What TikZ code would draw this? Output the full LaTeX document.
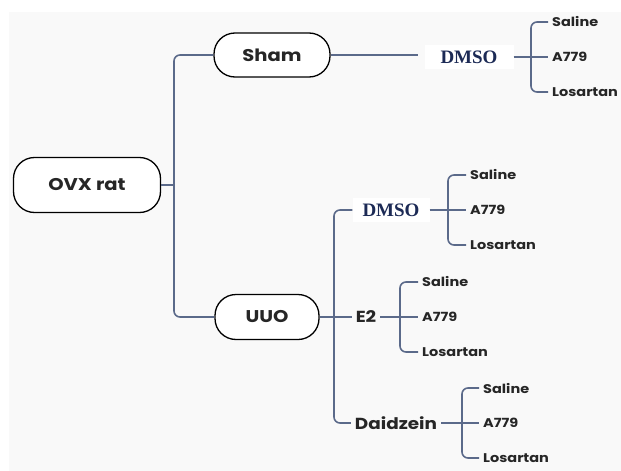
\documentclass[tikz,border=0pt]{standalone}
\usepackage{fontspec}
\setmainfont{Poppins}[FakeStretch=1.15]
\newfontfamily\dmsofont{Liberation Serif}
\definecolor{branch}{HTML}{5B6A8A}
\definecolor{ink}{HTML}{262626}
\definecolor{dmsoink}{HTML}{1C2A55}
\begin{document}
\begin{tikzpicture}[x=1pt,y=-1pt,
    grp/.style={draw=black,line width=1.3pt,fill=white,rounded corners=21pt,
      text=ink,font=\bfseries\fontsize{17}{17}\selectfont},
    dmso/.style={fill=white,inner xsep=10pt,inner ysep=6pt,text=dmsoink,
      font=\dmsofont\bfseries\fontsize{19}{19}\selectfont},
    drug/.style={text=ink,inner sep=4pt,font=\bfseries\fontsize{16}{16}\selectfont},
    leaf/.style={anchor=west,text=ink,inner sep=4pt,font=\bfseries\fontsize{12.6}{12.6}\selectfont},
    link/.style={draw=branch,line width=1.6pt,rounded corners=6pt}]
    \useasboundingbox (0,0) rectangle (621,471);
    \fill[black!2.5] (9,12) rectangle (621,471);
    % groups
    \node[grp,minimum width=147pt,minimum height=55pt] (ovx) at (87,185) {OVX rat};
    \node[grp,minimum width=116pt,minimum height=44pt] (sham) at (272,55) {Sham};
    \node[grp,minimum width=104pt,minimum height=45pt] (uuo) at (267,317) {UUO};
    % treatments
    \node[dmso,inner xsep=16pt] (dmsoA) at (469,57) {DMSO};
    \node[dmso] (dmsoB) at (391,210) {DMSO};
    \node[drug] (e2) at (366,317) {E2};
    \node[drug] (daid) at (396,423) {Daidzein};
    \coordinate (trunkA) at (174,185);
    \coordinate (trunkB) at (334,317);
    \draw[link] (ovx.east) -- (trunkA);
    \draw[link] (sham.west) -| (trunkA) |- (uuo.west);
    \draw[link] (sham.east) -- (418,55);
    \draw[link] (uuo.east) -- (e2.west);
    \draw[link] (dmsoB.west) -| (trunkB) |- (daid.west);
    % leaves
    \foreach \g/\p/\bx/\lx/\y in {A/dmsoA/531/548/57, B/dmsoB/448/466/210,
        C/e2/400/418/317, D/daid/462/479/423} {
      \node[leaf] (sal\g) at (\lx,\y-35) {Saline};
      \node[leaf] (ang\g) at (\lx,\y) {A779};
      \node[leaf] (los\g) at (\lx,\y+35) {Losartan};
      \coordinate (br\g) at (\bx,\y);
      \draw[link] (sal\g.west) -| (br\g) |- (los\g.west);
      \draw[link] (\p.east) -- (ang\g.west);
    }
\end{tikzpicture}
\end{document}
